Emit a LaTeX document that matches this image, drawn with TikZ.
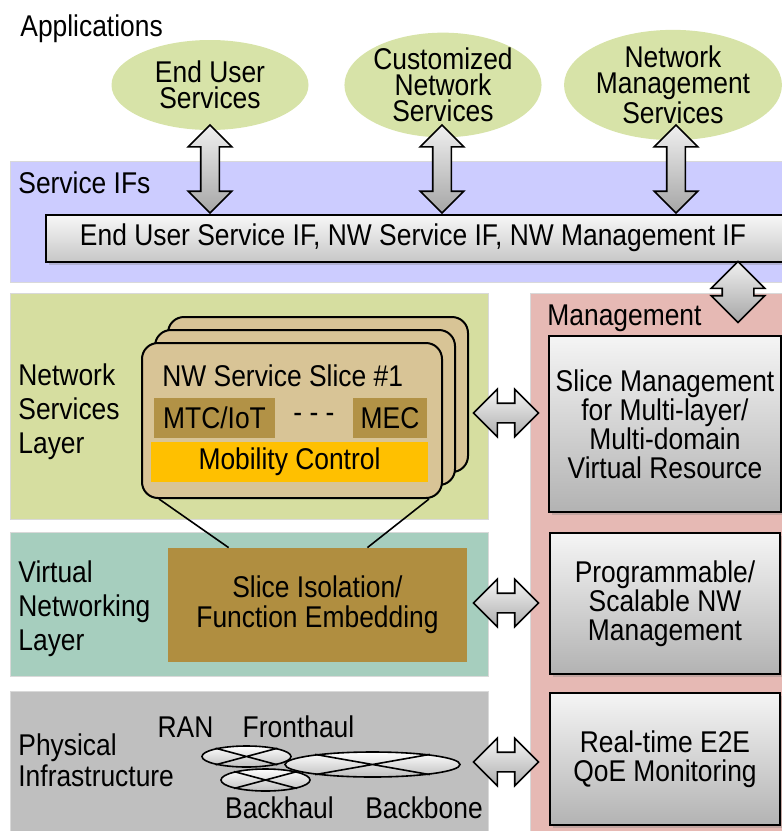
\documentclass[tikz,border=0pt]{standalone}
\usepackage{fontspec}
\setmainfont{Liberation Sans}[FakeStretch=0.88]
\usetikzlibrary{shapes.geometric,shapes.arrows,shadows,calc}
\definecolor{appgreen}{RGB}{215,227,168}
\definecolor{nslgreen}{RGB}{214,222,160}
\definecolor{iflav}{RGB}{204,204,255}
\definecolor{vnlteal}{RGB}{166,206,190}
\definecolor{phygray}{RGB}{191,191,191}
\definecolor{mgmtpink}{RGB}{230,185,180}
\definecolor{slicetan}{RGB}{216,196,150}
\definecolor{funcbrown}{RGB}{178,146,70}
\definecolor{isobrown}{RGB}{176,142,64}
\definecolor{mobyellow}{RGB}{255,192,0}
\tikzset{
  band/.style={anchor=north west, inner sep=0pt, draw=black!15},
  lbl/.style={anchor=west, inner sep=0pt, align=left},
  tag/.style={anchor=base west, inner sep=0pt},
  app/.style={ellipse, fill=appgreen, inner sep=0pt, minimum width=98.5pt, minimum height=45pt, align=center, font=\fontsize{15}{13}\selectfont},
  shade/.style={drop shadow={opacity=0.35, shadow xshift=1.5pt, shadow yshift=-1.5pt}},
  mbox/.style={draw, line width=1pt, top color=black!4, bottom color=black!30, minimum width=115pt, align=center, shade, font=\fontsize{15}{14.5}\selectfont},
  slice/.style={draw, line width=1pt, fill=slicetan, rounded corners=8pt, minimum width=150pt, minimum height=77.5pt, anchor=north west},
  fn/.style={fill=funcbrown, minimum height=20pt, inner sep=0pt},
  vdbl/.style={double arrow, draw, line width=0.8pt, shape border rotate=90, inner ysep=0pt, inner xsep=4.25pt, top color=black!6, bottom color=black!35, double arrow head extend=6.25pt, minimum width=21pt, minimum height=44pt},
  hdbl/.style={double arrow, draw, line width=0.8pt, inner xsep=0pt, inner ysep=4.5pt, top color=black!4, bottom color=black!32, double arrow head extend=7pt, minimum width=23pt, minimum height=32.5pt},
  pell/.style={ellipse, draw, line width=0.8pt, inner sep=0pt, top color=white, bottom color=black!25}
}
\begin{document}
\begin{tikzpicture}[x=0.5pt, y=-0.5pt, font=\fontsize{15}{17}\selectfont]
\useasboundingbox (0,0) rectangle (782,831);
\node[band, fill=iflav, minimum width=386pt, minimum height=60.5pt] (ifs) at (10,161) {};
\node[band, fill=nslgreen, minimum width=239pt, minimum height=113pt] (nsl) at (10,293) {};
\node[band, fill=vnlteal, minimum width=239pt, minimum height=72pt] (vnl) at (10,532) {};
\node[band, fill=phygray, minimum width=239pt, minimum height=72pt] (phy) at (10,691) {};
\node[band, fill=mgmtpink, minimum width=130pt, minimum height=272pt] (mgmt) at (530,293) {};
\node[tag] (appl) at (20,36) {Applications};
\node[tag] (ifl) at (18,193) {Service IFs};
\node[tag] (mgmtl) at (547,325) {Management};
\node[lbl] (nsll) at (18,412) {Network\\Services\\Layer};
\node[lbl] (vnll) at (18,609) {Virtual\\Networking\\Layer};
\node[lbl, font=\fontsize{15}{15.5}\selectfont] (phyl) at (18,760) {Physical\\Infrastructure};
\node[app] (eus) at (210,85) {End User\\Services};
\node[app] (cns) at (443,85) {Customized\\Network\\Services};
\node[app] (nms) at (673,85) {Network\\Management\\Services};
\node[draw, line width=1pt, top color=black!3, bottom color=black!22, minimum width=370pt, minimum height=23.5pt, anchor=north west, shade] (bar) at (45,214) {};
\node (barl) at (413,238) {End User Service IF, NW Service IF, NW Management IF};
\node[vdbl] (a1) at (210,169) {};
\node[vdbl] (a2) at (442,169) {};
\node[vdbl] (a3) at (676,169) {};
\node[vdbl, inner xsep=7.5pt, minimum width=26pt, minimum height=30.5pt, double arrow head extend=5.5pt] (a4) at (738,292) {};
\node[slice] (s3) at (167,316) {};
\node[slice] (s2) at (154,329) {};
\node[slice] (s1) at (141,342) {};
\node[tag] (s1l) at (162,386) {NW Service Slice \#1};
\node[fn, minimum width=60.5pt] (mtc) at (214.5,418) {MTC/IoT};
\node (dots) at (314,418) {- - -};
\node[fn, minimum width=37pt] (mec) at (390,418) {MEC};
\node[fill=mobyellow, minimum width=138.5pt, minimum height=20pt, inner sep=0pt] (mob) at (289.5,462) {Mobility Control\hspace{9pt}};
\node[fill=isobrown, minimum width=149.5pt, minimum height=57pt, align=center, font=\fontsize{15}{15}\selectfont] (iso) at (317.5,605) {Slice Isolation/\\Function Embedding};
\draw[line width=0.8pt] ($(s1.south west)+(18,0)$) -- ($(iso.north west)+(61,0)$);
\draw[line width=0.8pt] ($(s1.south east)+(-14,0)$) -- ($(iso.north east)+(-100,0)$);
\node[mbox, minimum height=88pt] (sm) at (665,424) {Slice Management\\for Multi-layer/\\Multi-domain\\Virtual Resource};
\node[mbox, minimum height=70.5pt] (prog) at (665,603.5) {Programmable/\\Scalable NW\\Management};
\node[mbox, minimum height=66pt] (qoe) at (665,759) {Real-time E2E\\QoE Monitoring};
\node[hdbl] (h1) at (506,413) {};
\node[hdbl] (h2) at (506,603) {};
\node[hdbl] (h3) at (506,762) {};
\node[pell, minimum width=44.5pt, minimum height=10.5pt] (ran) at (246.5,756.5) {};
\draw[line width=0.8pt] (ran.165) -- (ran.-15) (ran.195) -- (ran.15);
\node[pell, minimum width=87.5pt, minimum height=12.5pt] (bb) at (372.5,764.5) {};
\draw[line width=0.8pt] (bb.170) -- (bb.-10) (bb.190) -- (bb.10);
\node[pell, minimum width=44.5pt, minimum height=11pt] (bh) at (265.5,780) {};
\draw[line width=0.8pt] (bh.165) -- (bh.-15) (bh.195) -- (bh.15);
\node[anchor=base] (ranl) at (185.5,737) {RAN};
\node[anchor=base] (fhl) at (298.5,737) {Fronthaul};
\node[anchor=base] (bhl) at (279.5,818) {Backhaul};
\node[anchor=base] (bbl) at (424,818) {Backbone};
\end{tikzpicture}
\end{document}
